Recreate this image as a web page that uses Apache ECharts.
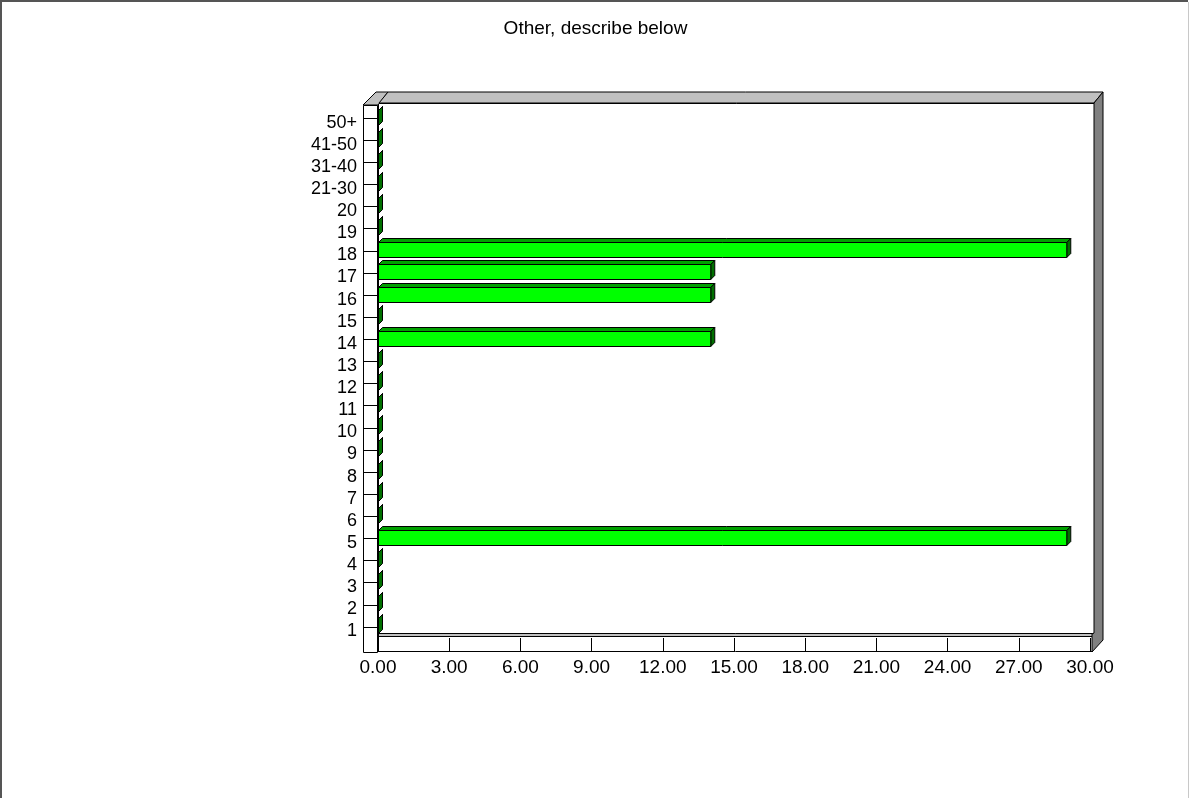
<!DOCTYPE html>
<html>
<head>
<meta charset="utf-8">
<script src="https://cdn.jsdelivr.net/npm/echarts@6/dist/echarts.min.js"></script>
<style>
html,body{margin:0;padding:0;background:#fff;}
#chart{width:1191px;height:798px;}
</style>
</head>
<body>
<div id="chart"></div>
<script>
const titleText = 'Other, describe below';
const categories = ['1','2','3','4','5','6','7','8','9','10','11','12','13','14','15','16','17','18','19','20','21-30','31-40','41-50','50+'];
const values = [0,0,0,0,29,0,0,0,0,0,0,0,0,14,0,14,14,29,0,0,0,0,0,0];
const xMin = 0, xMax = 30, xStep = 3;

const GL = 378, GT = 107, GW = 712, GH = 531;
const L = GL, R = GL + GW, T = GT, B = GT + GH;
const FONT = "'Liberation Sans', Arial, sans-serif";
const D = 4;

const chart = echarts.init(document.getElementById('chart'), null, {renderer: 'canvas'});

const data = values.map((v, i) => [v, i]);

const option = {
  backgroundColor: '#ffffff',
  animation: false,
  title: {
    text: titleText,
    left: 'center',
    top: 14,
    textStyle: {fontFamily: FONT, fontSize: 19, fontWeight: 'normal', color: '#000'}
  },
  grid: {left: GL, top: GT, width: GW, height: GH, containLabel: false},
  xAxis: {
    type: 'value', min: xMin, max: xMax, interval: xStep,
    axisLine: {show: false},
    splitLine: {show: false},
    axisTick: {show: true, length: 14, lineStyle: {color: '#000', width: 1}},
    axisLabel: {margin: 20, fontFamily: FONT, fontSize: 19, color: '#000',
      formatter: v => v.toFixed(2)}
  },
  yAxis: {
    type: 'category', data: categories,
    axisLine: {show: false},
    splitLine: {show: false},
    axisTick: {show: true, alignWithLabel: true, length: 15, lineStyle: {color: '#000', width: 1}},
    axisLabel: {margin: 21, color: '#000', interval: 0,
      formatter: v => '{a|' + v + '}',
      rich: {a: {fontFamily: FONT, fontSize: 18, color: '#000', padding: [9, 0, 0, 0]}}}
  },
  graphic: [
    {type: 'polyline', z: 0, shape: {points: [[1,798],[1,1],[1188,1]]}, style: {stroke: '#555', lineWidth: 2, fill: null}},
    {type: 'line', z: 0, shape: {x1: 1188.5, y1: 2, x2: 1188.5, y2: 798}, style: {stroke: '#c8c8c8', lineWidth: 1}},
    {type: 'rect', z: 0, shape: {x: L + 0.5, y: T - 3.5, width: R + 4 - L, height: B - 5 - (T - 4)}, style: {fill: '#fff', stroke: '#000', lineWidth: 1}},
    {type: 'rect', z: 0, shape: {x: L + 0.5, y: B - 4.5, width: R + 2 - L, height: 18}, style: {fill: '#fff', stroke: '#000', lineWidth: 1}},
    {type: 'rect', z: 0, shape: {x: L + 1, y: B - 4, width: R + 1 - L, height: 2.5}, style: {fill: '#c0c0c0', stroke: null}},
    {type: 'line', z: 0, shape: {x1: L, y1: B - 1.5, x2: R + 2, y2: B - 1.5}, style: {stroke: '#000', lineWidth: 1}},
    {type: 'rect', z: 0, shape: {x: L - 14.5, y: T - 1.5, width: 14, height: B + 14 - (T - 2)}, style: {fill: '#fff', stroke: '#000', lineWidth: 1}},
    {type: 'polygon', z: 0, shape: {points: [[L - 15, T - 2], [L - 2, T - 15], [L + 10, T - 15], [L, T - 2]]}, style: {fill: '#c0c0c0', stroke: '#000', lineWidth: 1}},
    {type: 'polygon', z: 0, shape: {points: [[L + 10, T - 15], [R + 13, T - 15], [R + 4, T - 4], [L + 1, T - 4]]}, style: {fill: '#c0c0c0', stroke: '#000', lineWidth: 1}},
    {type: 'polygon', z: 0, shape: {points: [[R + 4, T - 4], [R + 13, T - 15], [R + 13, B + 2], [R + 2, B + 14], [R + 2, B - 4], [R + 4, B - 5]]}, style: {fill: '#808080', stroke: '#000', lineWidth: 1}}
  ],
  series: [{
    type: 'custom',
    z: 10,
    data: data,
    encode: {x: 0, y: 1},
    renderItem: function (params, api) {
      const v = api.value(0);
      const ci = api.value(1);
      const p0 = api.coord([0, ci]);
      const p1 = api.coord([v, ci]);
      const h = 15;
      const yc = p0[1] - 1;
      const x0 = p0[0] + 0.5, x1 = p1[0] + 0.5;
      const yt = Math.round(yc - h / 2) + 0.5, yb = yt + h;
      return {
        type: 'group',
        children: [
          {type: 'polygon', shape: {points: [[x0, yt], [x0 + D, yt - D], [x1 + D, yt - D], [x1, yt]]},
            style: {fill: '#00a000', stroke: '#000', lineWidth: 1}},
          {type: 'polygon', shape: {points: [[x1, yt], [x1 + D, yt - D], [x1 + D, yb - D], [x1, yb]]},
            style: {fill: '#007000', stroke: '#000', lineWidth: 1}},
          {type: 'rect', shape: {x: x0, y: yt, width: x1 - x0, height: h},
            style: {fill: '#00ff00', stroke: '#000', lineWidth: 1}}
        ]
      };
    }
  }]
};
chart.setOption(option);
</script>
</body>
</html>
